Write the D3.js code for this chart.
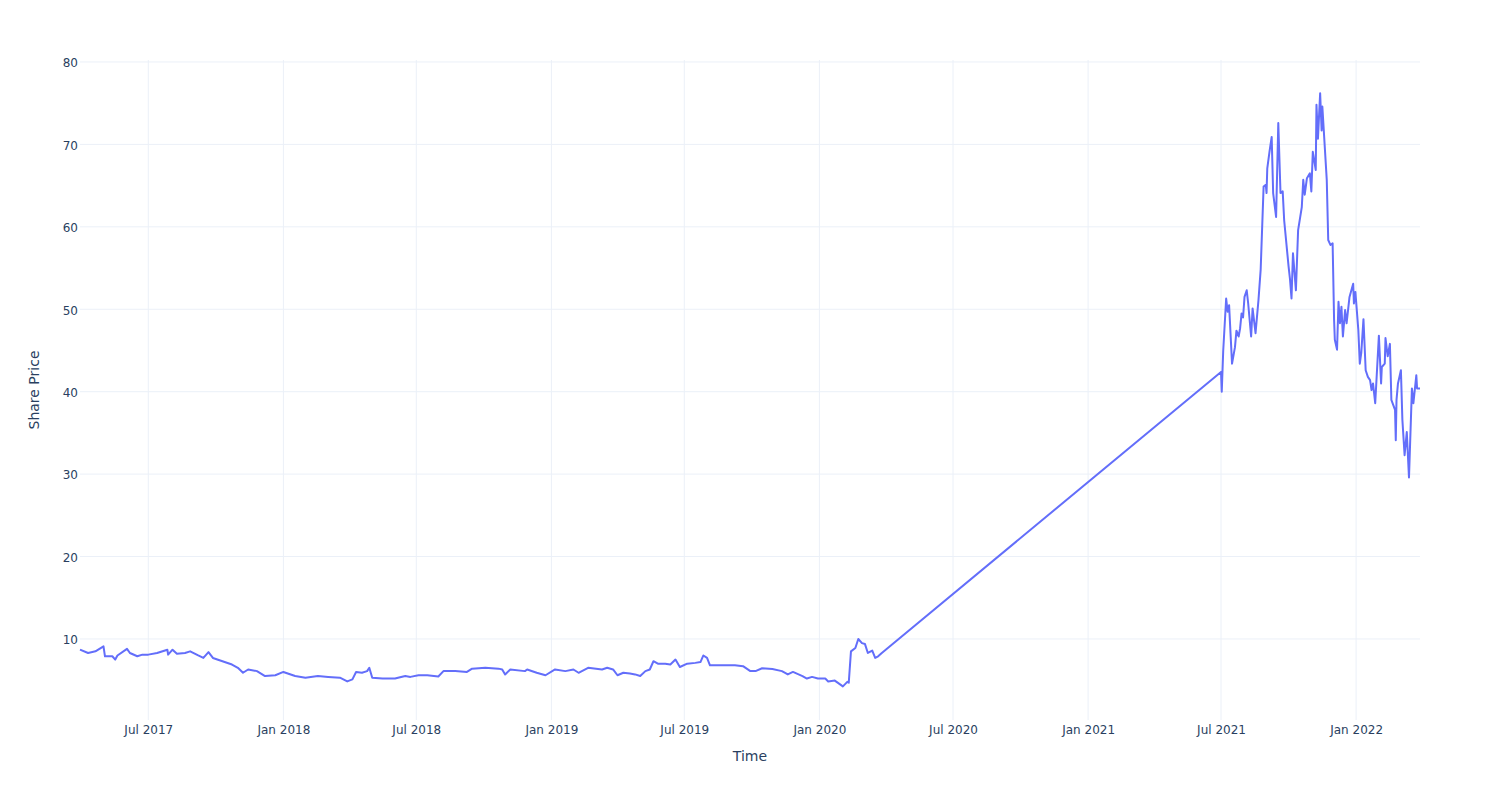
<!DOCTYPE html>
<html><head><meta charset="utf-8">
<script src="https://cdn.jsdelivr.net/npm/d3@7"></script>
<style>body{margin:0;background:#fff}svg{display:block}</style>
</head><body>
<svg id="c" width="1500" height="800"></svg>
<script>
const dates = [
"2017-03-30","2017-04-10","2017-04-20","2017-05-01","2017-05-03","2017-05-13","2017-05-17","2017-05-20","2017-06-02","2017-06-06",
"2017-06-16","2017-06-23","2017-07-01","2017-07-13","2017-07-27","2017-07-28","2017-08-03","2017-08-09","2017-08-20","2017-08-27",
"2017-09-07","2017-09-14","2017-09-21","2017-09-27","2017-10-10","2017-10-23","2017-10-31","2017-11-07","2017-11-14","2017-11-26",
"2017-12-07","2017-12-21","2018-01-01","2018-01-17","2018-01-31","2018-02-17","2018-03-03","2018-03-19","2018-03-29","2018-04-05",
"2018-04-10","2018-04-18","2018-04-25","2018-04-28","2018-05-02","2018-05-16","2018-06-02","2018-06-16","2018-06-23","2018-07-04",
"2018-07-16","2018-07-31","2018-08-07","2018-08-23","2018-09-08","2018-09-15","2018-10-03","2018-10-21","2018-10-26","2018-10-30",
"2018-11-06","2018-11-26","2018-11-29","2018-12-12","2018-12-24","2019-01-06","2019-01-20","2019-01-31","2019-02-07","2019-02-20",
"2019-03-11","2019-03-18","2019-03-26","2019-04-01","2019-04-09","2019-04-18","2019-04-25","2019-05-02","2019-05-09","2019-05-15",
"2019-05-20","2019-05-26","2019-06-05","2019-06-12","2019-06-19","2019-06-25","2019-07-05","2019-07-16","2019-07-23","2019-07-27",
"2019-08-01","2019-08-05","2019-08-22","2019-09-08","2019-09-19","2019-09-29","2019-10-06","2019-10-15","2019-10-29","2019-11-11",
"2019-11-19","2019-11-26","2019-12-09","2019-12-15","2019-12-22","2019-12-30","2020-01-09","2020-01-13","2020-01-22","2020-02-02",
"2020-02-08","2020-02-10","2020-02-13","2020-02-19","2020-02-23","2020-02-28","2020-03-03","2020-03-07","2020-03-13","2020-03-17",
"2020-03-21","2020-03-26",
"2021-07-01","2021-07-02","2021-07-04","2021-07-08","2021-07-10","2021-07-12","2021-07-16","2021-07-20","2021-07-22","2021-07-25",
"2021-07-27","2021-07-29","2021-07-31","2021-08-02","2021-08-05","2021-08-07","2021-08-11","2021-08-13","2021-08-17","2021-08-21",
"2021-08-24","2021-08-28","2021-08-31","2021-09-01","2021-09-02","2021-09-05","2021-09-08","2021-09-10","2021-09-14","2021-09-17",
"2021-09-20","2021-09-23","2021-09-25","2021-10-01","2021-10-03","2021-10-05","2021-10-07","2021-10-11","2021-10-14","2021-10-19",
"2021-10-21","2021-10-23","2021-10-26","2021-10-30","2021-11-01","2021-11-03","2021-11-07","2021-11-08","2021-11-10","2021-11-13",
"2021-11-15","2021-11-16","2021-11-22","2021-11-24","2021-11-27","2021-11-30","2021-12-02","2021-12-03","2021-12-06","2021-12-08",
"2021-12-10","2021-12-12","2021-12-14","2021-12-17","2021-12-19","2021-12-23","2021-12-28","2021-12-29","2021-12-31","2022-01-04",
"2022-01-06","2022-01-08","2022-01-11","2022-01-14","2022-01-17","2022-01-20","2022-01-22","2022-01-24","2022-01-27","2022-02-01",
"2022-02-04","2022-02-05","2022-02-09","2022-02-10","2022-02-13","2022-02-16","2022-02-18","2022-02-23","2022-02-24","2022-02-25",
"2022-02-27","2022-03-03","2022-03-05","2022-03-08","2022-03-11","2022-03-14","2022-03-18","2022-03-20","2022-03-24","2022-03-25",
"2022-03-29"
];
const prices = [
8.7,8.3,8.5,9.1,7.9,7.9,7.5,8.0,8.8,8.3,
7.9,8.1,8.1,8.3,8.7,8.1,8.7,8.2,8.3,8.5,
8.0,7.7,8.4,7.7,7.3,6.9,6.5,5.9,6.3,6.1,
5.5,5.6,6.0,5.5,5.3,5.5,5.4,5.3,4.85,5.1,
6.0,5.9,6.1,6.5,5.3,5.2,5.2,5.5,5.4,5.6,
5.6,5.45,6.1,6.1,6.0,6.4,6.5,6.4,6.3,5.7,
6.3,6.1,6.3,5.9,5.6,6.3,6.1,6.3,5.9,6.5,
6.3,6.5,6.3,5.6,5.9,5.8,5.7,5.5,6.1,6.3,
7.3,7.0,7.0,6.9,7.5,6.6,7.0,7.1,7.2,8.0,
7.7,6.8,6.8,6.8,6.7,6.1,6.1,6.45,6.35,6.1,
5.7,6.0,5.5,5.2,5.4,5.2,5.2,4.85,4.95,4.25,
4.8,4.7,8.5,8.9,10.0,9.5,9.4,8.3,8.6,7.7,
7.9,8.3,
42.4,40.0,45.0,51.3,49.7,50.5,43.4,45.4,47.4,46.7,
47.7,49.5,49.0,51.5,52.3,50.7,46.7,50.1,47.1,51.1,
54.8,64.9,65.1,64.1,67.1,69.1,70.9,64.1,61.2,72.6,
64.1,64.3,60.8,55.2,53.6,51.3,56.8,52.3,59.6,62.4,
65.7,63.9,65.9,66.5,64.3,69.1,66.9,74.8,70.7,76.2,
71.7,74.6,65.7,58.4,57.8,58.0,48.7,46.3,45.1,50.9,
48.3,50.3,46.7,49.9,48.3,51.5,53.1,50.7,52.1,47.5,
43.4,44.7,48.8,42.6,41.8,41.4,40.2,41.0,38.6,46.8,
41.0,43.0,43.4,46.5,44.3,45.8,39.0,37.8,34.1,39.0,
41.0,42.6,36.6,32.3,35.1,29.6,40.4,38.6,42.0,40.4,
40.4
];
const yTicks = [10,20,30,40,50,60,70,80];
const xTickLabelFormat = "%b %Y";
const xTitle = "Time", yTitle = "Share Price";

const W = 1500, H = 800, m = {l:80, r:80, t:60, b:80};
const parse = d3.timeParse("%Y-%m-%d");
const data = dates.map((d,i)=>({date:parse(d), v:prices[i]}));
const svg = d3.select("#c");
const x = d3.scaleTime().domain(d3.extent(data,d=>d.date)).range([m.l, W-m.r]);
const y = d3.scaleLinear().domain([0.17, 80.24]).range([H-m.b, m.t]);
const font = "'DejaVu Sans', Verdana, sans-serif";
const textCol = "#2a3f5f", gridCol = "#ebf0f8";

const xTicks = x.ticks(d3.timeMonth.every(6));
// gridlines
svg.append("g").selectAll("line").data(xTicks).join("line")
  .attr("x1",d=>x(d)).attr("x2",d=>x(d)).attr("y1",m.t).attr("y2",H-m.b)
  .attr("stroke",gridCol).attr("stroke-width",1);
svg.append("g").selectAll("line").data(yTicks).join("line")
  .attr("x1",m.l).attr("x2",W-m.r).attr("y1",d=>y(d)).attr("y2",d=>y(d))
  .attr("stroke",gridCol).attr("stroke-width",1);

// axes
const xAxis = d3.axisBottom(x).tickValues(xTicks).tickFormat(d3.timeFormat(xTickLabelFormat)).tickSize(0).tickPadding(5);
const gx = svg.append("g").attr("transform",`translate(0,${H-m.b})`).call(xAxis);
gx.select(".domain").remove();
gx.selectAll("text").attr("fill",textCol).style("font-family",font).style("font-size","12px");
const yAxis = d3.axisLeft(y).tickValues(yTicks).tickSize(0).tickPadding(2);
const gy = svg.append("g").attr("transform",`translate(${m.l},1)`).call(yAxis);
gy.select(".domain").remove();
gy.selectAll("text").attr("fill",textCol).style("font-family",font).style("font-size","12px");

// line
svg.append("path").datum(data)
  .attr("fill","none").attr("stroke","#636efa").attr("stroke-width",2).attr("stroke-linejoin","round")
  .attr("d", d3.line().x(d=>x(d.date)).y(d=>y(d.v)));

// titles
svg.append("text").attr("x",(m.l+W-m.r)/2).attr("y",761).attr("text-anchor","middle")
  .attr("fill",textCol).style("font-family",font).style("font-size","14px").text(xTitle);
svg.append("text").attr("transform",`translate(39,${(m.t+H-m.b)/2}) rotate(-90)`).attr("text-anchor","middle")
  .attr("fill",textCol).style("font-family",font).style("font-size","14px").text(yTitle);
</script>
</body></html>
